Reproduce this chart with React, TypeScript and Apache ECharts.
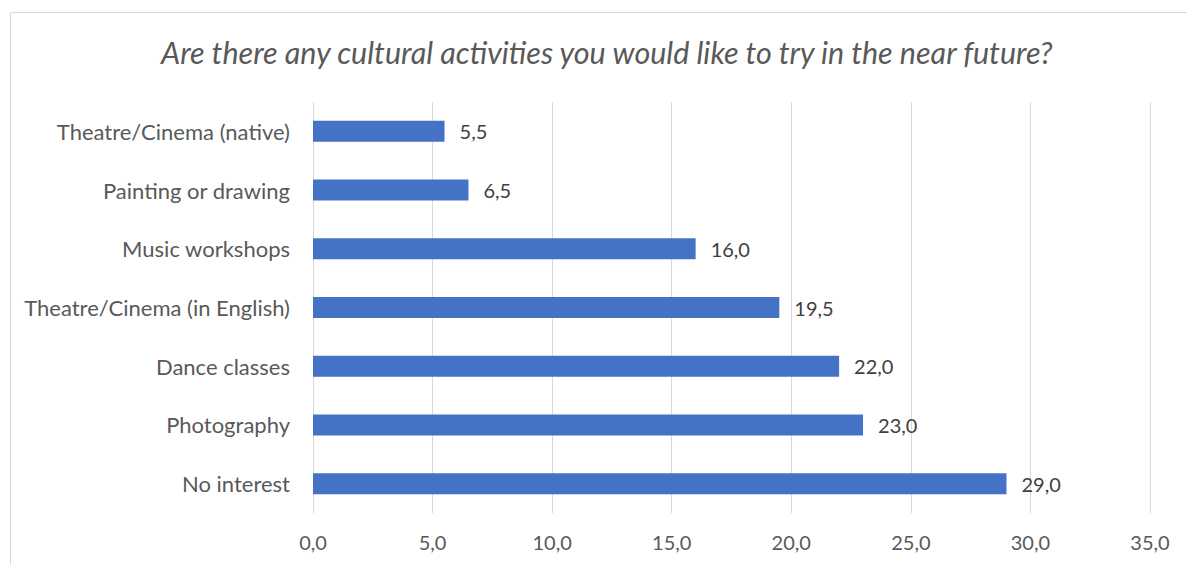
import React, { useEffect, useRef } from "react";
import * as echarts from "echarts";

const categories = [
  "Theatre/Cinema (native)",
  "Painting or drawing",
  "Music workshops",
  "Theatre/Cinema (in English)",
  "Dance classes",
  "Photography",
  "No interest",
];
const values = [5.5, 6.5, 16.0, 19.5, 22.0, 23.0, 29.0];
const titleText = "Are there any cultural activities you would like to try in the near future?";
const axisMin = 0;
const axisMax = 35;
const axisInterval = 5;

const fmt = (v: number) => v.toFixed(1).replace(".", ",");
const FONT = "Lato, 'Open Sans', sans-serif";

export default function App() {
  const ref = useRef<HTMLDivElement>(null);
  useEffect(() => {
    document.body.style.margin = "0";
    const chart = echarts.init(ref.current!, undefined, { renderer: "svg" });
    chart.setOption({
      animation: false,
      backgroundColor: "#ffffff",
      title: {
        text: titleText,
        left: 156,
        top: 32,
        textStyle: {
          fontFamily: FONT,
          fontStyle: "italic",
          fontWeight: "normal",
          fontSize: 30.5,
          color: "#595959",
        },
      },
      graphic: [
        {
          type: "rect",
          shape: { x: 10.5, y: 12.5, width: 1200, height: 600 },
          style: { fill: "none", stroke: "#d9d9d9", lineWidth: 1 },
          silent: true,
          z: -1,
        },
      ],
      grid: { left: 313, right: 37, top: 102, bottom: 52 },
      xAxis: {
        type: "value",
        min: axisMin,
        max: axisMax,
        interval: axisInterval,
        axisLine: { show: false },
        axisTick: { show: false },
        splitLine: { show: true, lineStyle: { color: "#d9d9d9", width: 1 } },
        axisLabel: {
          formatter: (v: number) => fmt(v),
          fontFamily: FONT,
          fontSize: 20,
          color: "#595959",
          margin: 19,
        },
      },
      yAxis: {
        type: "category",
        data: categories,
        inverse: true,
        axisLine: { show: false },
        axisTick: { show: false },
        splitLine: { show: false },
        axisLabel: {
          fontFamily: FONT,
          fontSize: 22,
          color: "#595959",
          margin: 23,
        },
      },
      series: [
        {
          type: "bar",
          data: values,
          barWidth: 21,
          itemStyle: { color: "#4472C4" },
          label: {
            show: true,
            position: "right",
            distance: 15,
            formatter: (p: any) => fmt(p.value),
            fontFamily: FONT,
            fontSize: 20,
            color: "#404040",
          },
        },
      ],
    });
    return () => chart.dispose();
  }, []);
  return <div ref={ref} style={{ width: 1187, height: 565 }} />;
}
